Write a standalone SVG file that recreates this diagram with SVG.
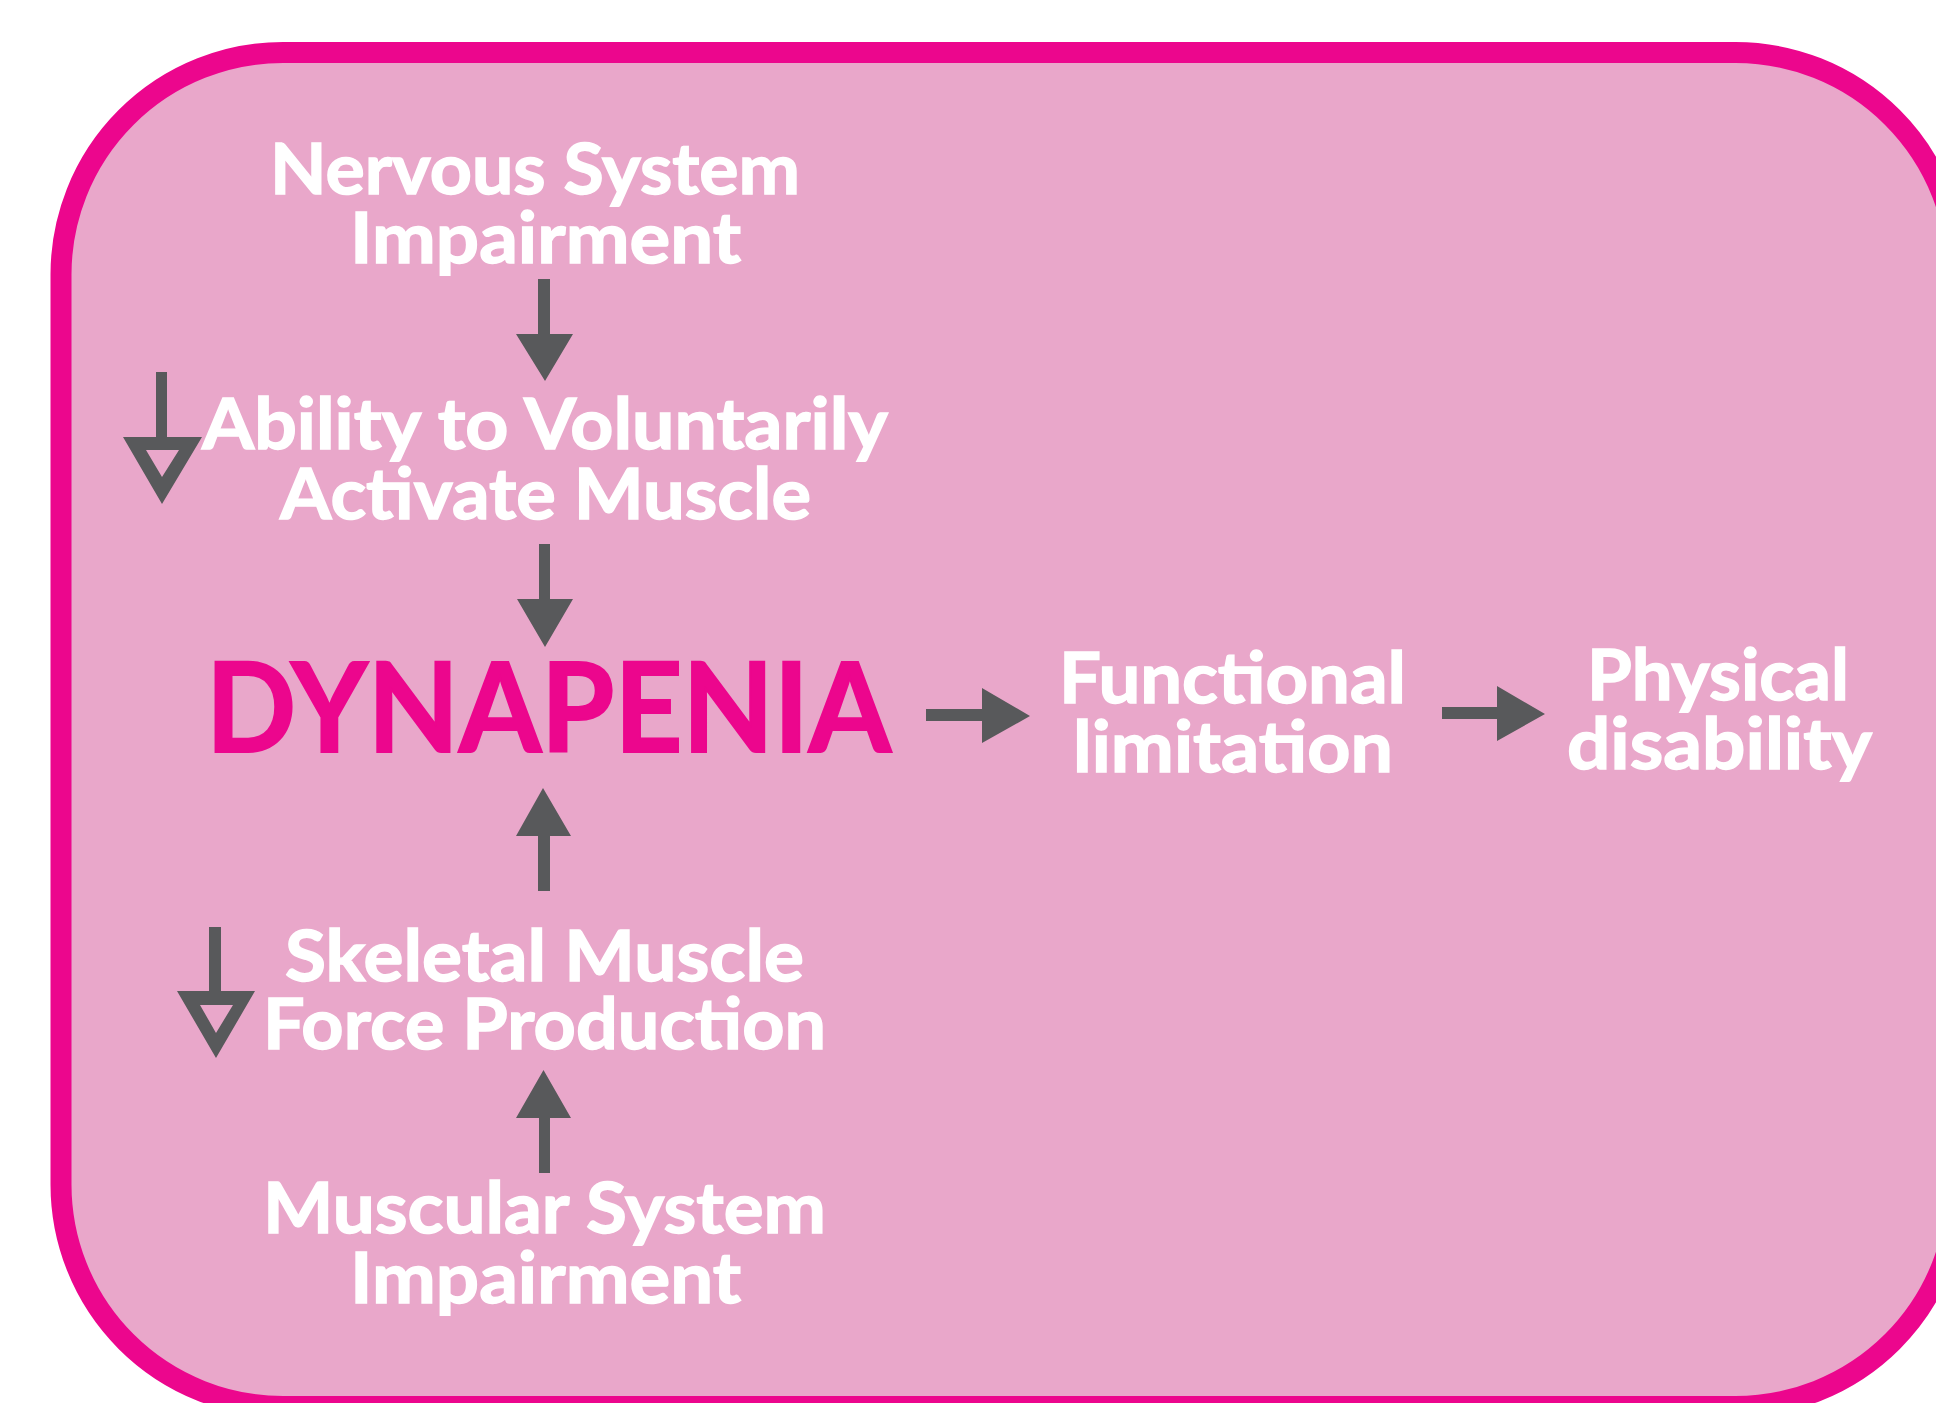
<svg xmlns="http://www.w3.org/2000/svg" width="1936" height="1403" viewBox="0 0 1936 1403">
<style>
.t{font-family:Lato,"Open Sans","Liberation Sans",sans-serif;font-weight:700;font-size:71px;fill:#FFFFFF;stroke:#FFFFFF;stroke-width:1.4px}
.big{font-family:Lato,"Open Sans","Liberation Sans",sans-serif;font-weight:700;font-size:124px;fill:#EC068D;stroke:#EC068D;stroke-width:2px}
.ar{fill:#58595B}
</style>
<rect width="1936" height="1403" fill="#FFFFFF"/>
<g id="frame">
<rect x="61" y="52.5" width="1896.5" height="1354" rx="222" ry="222" fill="#E9A7CA" stroke="#EC068D" stroke-width="21"/>
</g>
<g id="connectors">
<path class="ar" d="M538 279H550V334H573L545 381L516 334H538Z"/>
<path class="ar" d="M539 544H550V599H573L545 647L517 599H539Z"/>
<path class="ar" d="M538 891H550V836H571L543 788L516 836H538Z"/>
<path class="ar" d="M539 1173H550V1118H571L543.5 1070L516 1118H539Z"/>
<path class="ar" d="M926 709H982V688L1030 716L982 743V721H926Z"/>
<path class="ar" d="M1442 707H1497V686L1545 714L1497 741V719H1442Z"/>
</g>
<g id="nervous">
<text class="t" x="270" y="194" textLength="530" lengthAdjust="spacingAndGlyphs">Nervous System</text>
<text class="t" x="350" y="263" textLength="391" lengthAdjust="spacingAndGlyphs">Impairment</text>
</g>
<g id="ability">
<path class="ar" fill-rule="evenodd" d="M156 372H167V437H202L162 504L123 437H156Z M146 450L179 450L162 477Z"/>
<text class="t" x="202" y="449" textLength="686" lengthAdjust="spacingAndGlyphs">Ability to Voluntarily</text>
<text class="t" x="280" y="519" textLength="531" lengthAdjust="spacingAndGlyphs">Activate Muscle</text>
</g>
<g id="dynapenia">
<text class="big" x="206" y="752" textLength="685" lengthAdjust="spacingAndGlyphs">DYNAPENIA</text>
</g>
<g id="skeletal">
<path class="ar" fill-rule="evenodd" d="M209 927H221V991H255L216 1058L177 991H209Z M200 1005L233 1005L216 1033Z"/>
<text class="t" x="285" y="981" textLength="519" lengthAdjust="spacingAndGlyphs">Skeletal Muscle</text>
<text class="t" x="263" y="1049" textLength="563" lengthAdjust="spacingAndGlyphs">Force Production</text>
</g>
<g id="muscular">
<text class="t" x="263" y="1233" textLength="563" lengthAdjust="spacingAndGlyphs">Muscular System</text>
<text class="t" x="350" y="1303" textLength="391" lengthAdjust="spacingAndGlyphs">Impairment</text>
</g>
<g id="functional">
<text class="t" x="1059" y="703" textLength="347" lengthAdjust="spacingAndGlyphs">Functional</text>
<text class="t" x="1073" y="772" textLength="320" lengthAdjust="spacingAndGlyphs">limitation</text>
</g>
<g id="physical">
<text class="t" x="1587" y="700" textLength="262" lengthAdjust="spacingAndGlyphs">Physical</text>
<text class="t" x="1567" y="769" textLength="305" lengthAdjust="spacingAndGlyphs">disability</text>
</g>
</svg>
